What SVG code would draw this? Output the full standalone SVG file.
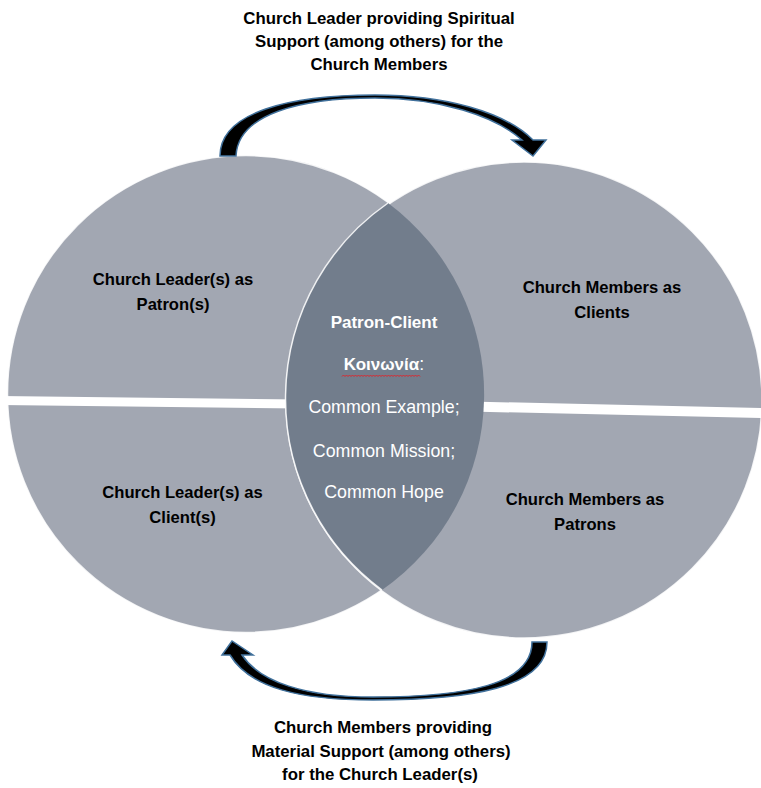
<svg xmlns="http://www.w3.org/2000/svg" width="761" height="788" viewBox="0 0 761 788">
<style>
.circ{fill:#A2A7B2;stroke:#ffffff;stroke-width:1.5;stroke-opacity:0.85}
.lens{fill:#727D8C}
.band{fill:#ffffff}
.lbl{font-family:"Liberation Sans",Arial,sans-serif;font-weight:bold;font-size:16.6px;fill:#000000;text-anchor:middle}
.cap{font-family:"Liberation Sans",Arial,sans-serif;font-weight:bold;font-size:16.8px;fill:#000000;text-anchor:middle}
.lt{font-family:"Liberation Sans",Arial,sans-serif;font-size:17.8px;fill:#ffffff;text-anchor:middle}
.ltb{font-weight:bold;font-size:17px}
.arrow{fill:#000000;stroke:#41719C;stroke-width:1.5;stroke-linejoin:miter}
</style>
<rect width="761" height="788" fill="#ffffff"/>
<g id="circle-left">
<circle class="circ" cx="246" cy="394" r="238.5"/>
</g>
<g id="circle-right">
<circle class="circ" cx="524" cy="400" r="238"/>
</g>
<g id="bands">
<polygon class="band" points="0,396 300,399.5 300,408.5 0,405"/>
<polygon class="band" points="470,401.5 761,408 761,418 470,411.5"/>
</g>
<g id="lens">
<path class="lens" d="M388,203 A238,238 0 0 0 382,590 A238.5,238.5 0 0 0 388,203 Z"/>
<path d="M388,203 A238,238 0 0 0 382,590" fill="none" stroke="#ffffff" stroke-width="1.5" stroke-opacity="0.85"/>
</g>
<g id="label-leader-patron">
<text class="lbl" x="173" y="285">Church Leader(s) as</text>
<text class="lbl" x="173" y="310">Patron(s)</text>
</g>
<g id="label-members-clients">
<text class="lbl" x="602" y="293">Church Members as</text>
<text class="lbl" x="602" y="318">Clients</text>
</g>
<g id="label-leader-client">
<text class="lbl" x="182.5" y="498">Church Leader(s) as</text>
<text class="lbl" x="182.5" y="523">Client(s)</text>
</g>
<g id="label-members-patrons">
<text class="lbl" x="585" y="505">Church Members as</text>
<text class="lbl" x="585" y="530">Patrons</text>
</g>
<g id="label-center">
<text class="lt ltb" x="384" y="328">Patron-Client</text>
<text class="lt" x="384" y="370"><tspan class="ltb">Κοινωνία</tspan>:</text>
<path d="M342,376.5 l1.5,-1.5 l1.5,1.5 l1.5,-1.5 l1.5,1.5 l1.5,-1.5 l1.5,1.5 l1.5,-1.5 l1.5,1.5 l1.5,-1.5 l1.5,1.5 l1.5,-1.5 l1.5,1.5 l1.5,-1.5 l1.5,1.5 l1.5,-1.5 l1.5,1.5 l1.5,-1.5 l1.5,1.5 l1.5,-1.5 l1.5,1.5 l1.5,-1.5 l1.5,1.5 l1.5,-1.5 l1.5,1.5 l1.5,-1.5 l1.5,1.5 l1.5,-1.5 l1.5,1.5 l1.5,-1.5 l1.5,1.5 l1.5,-1.5 l1.5,1.5 l1.5,-1.5 l1.5,1.5 l1.5,-1.5 l1.5,1.5 l1.5,-1.5 l1.5,1.5 l1.5,-1.5 l1.5,1.5 l1.5,-1.5 l1.5,1.5 l1.5,-1.5 l1.5,1.5 l1.5,-1.5 l1.5,1.5 l1.5,-1.5 l1.5,1.5 l1.5,-1.5 l1.5,1.5 l1.5,-1.5 l1.5,1.5" fill="none" stroke="#E0242B" stroke-width="1"/>
<text class="lt" x="384" y="413">Common Example;</text>
<text class="lt" x="384" y="457">Common Mission;</text>
<text class="lt" x="384" y="498">Common Hope</text>
</g>
<g id="connectors">
<path class="arrow" d="M220,156 C220,112 290,95 375,95 C445,95 505,112 533,140 L546,140 L533,156 L512,140 L522,140 C495,116 440,98 375,98 C300,98 238,114 236,156 Z"/>
<path class="arrow" d="M547,642 C547,688 470,700 373,700 C300,700 250,688 230,655 L222,655 L232,641 L253,655 L242,655 C260,682 305,697 373,697 C465,697 532,685 532,642 Z"/>
</g>
<g id="caption-top">
<text class="cap" x="379" y="24">Church Leader providing Spiritual</text>
<text class="cap" x="379" y="47">Support (among others) for the</text>
<text class="cap" x="379" y="70">Church Members</text>
</g>
<g id="caption-bottom">
<text class="cap" x="383" y="733">Church Members providing</text>
<text class="cap" x="381" y="757">Material Support (among others)</text>
<text class="cap" x="380" y="780">for the Church Leader(s)</text>
</g>
</svg>
